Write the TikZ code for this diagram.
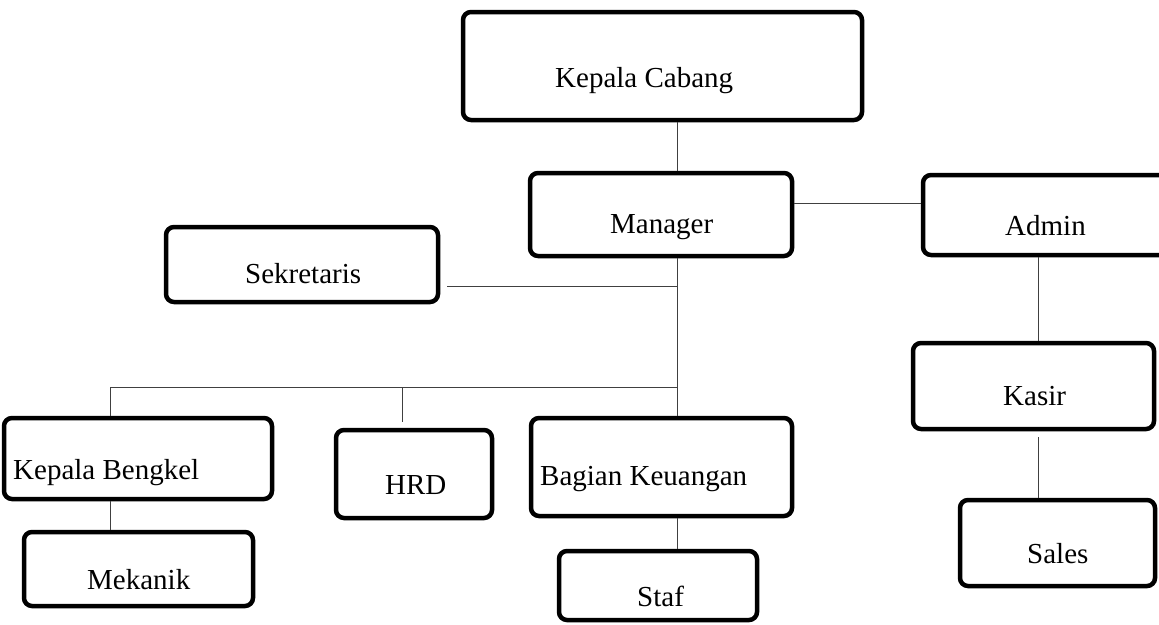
\documentclass[tikz,border=0pt]{standalone}
\usepackage{fontspec}
\setmainfont{Liberation Serif}
\begin{document}
\begin{tikzpicture}[x=1pt, y=-1pt,
    box/.style={draw, line width=4.5pt, rounded corners=8pt, inner sep=0pt},
    lbl/.style={anchor=base west, inner sep=0pt, font=\fontsize{29}{34}\selectfont},
    link/.style={draw=black!75, line width=1pt}]
    \useasboundingbox (0,0) rectangle (1159,624);
    % boxes
    \node (kc) at (662.5,66) [box, minimum width=399pt, minimum height=108pt] {};
    \node (mgr) at (661,214.5) [box, minimum width=262pt, minimum height=83pt] {};
    \node (adm) at (1049,215) [box, minimum width=252pt, minimum height=80pt] {};
    \node (sek) at (302,264.5) [box, minimum width=272pt, minimum height=75pt] {};
    \node (kas) at (1033.5,386) [box, minimum width=241pt, minimum height=86pt] {};
    \node (kb) at (138,458.5) [box, minimum width=268pt, minimum height=81pt] {};
    \node (hrd) at (414,474) [box, minimum width=156pt, minimum height=88pt] {};
    \node (bk) at (661.5,467) [box, minimum width=261pt, minimum height=98pt] {};
    \node (mek) at (138.5,569) [box, minimum width=229pt, minimum height=74pt] {};
    \node (staf) at (658,585.5) [box, minimum width=198pt, minimum height=69pt] {};
    \node (sales) at (1057.5,543) [box, minimum width=195pt, minimum height=86pt] {};
    % texts
    \node (kc-t) at (555,87) [lbl] {Kepala Cabang};
    \node (mgr-t) at (610,233) [lbl] {Manager};
    \node (adm-t) at (1005,235) [lbl] {Admin};
    \node (sek-t) at (245,283) [lbl] {Sekretaris};
    \node (kas-t) at (1003,405) [lbl] {Kasir};
    \node (kb-t) at (13,479) [lbl] {Kepala Bengkel};
    \node (hrd-t) at (385,494) [lbl] {HRD};
    \node (bk-t) at (540,485) [lbl] {Bagian Keuangan};
    \node (mek-t) at (87,589) [lbl] {Mekanik};
    \node (staf-t) at (637,606) [lbl] {Staf};
    \node (sales-t) at (1027,563) [lbl] {Sales};
    % lines
    \coordinate (trunk) at (677,0);
    \coordinate (side) at (1038,0);
    \coordinate (ma) at (0,203);
    \coordinate (sekend) at (447,286);
    \coordinate (branch) at (110,387);
    \coordinate (hrdtop) at (402,422);
    \draw[link] (kc.south -| trunk) -- (mgr.north -| trunk);
    \draw[link] (mgr.east |- ma) -- (adm.west |- ma);
    \draw[link] (mgr.south -| trunk) -- (bk.north -| trunk);
    \draw[link] (sekend) -- (sekend -| trunk);
    \draw[link] (branch) -- (branch -| trunk);
    \draw[link] (branch) -- (kb.north -| branch);
    \draw[link] (hrdtop |- branch) -- (hrdtop);
    \draw[link] (kb.south -| branch) -- (mek.north -| branch);
    \draw[link] (bk.south -| trunk) -- (staf.north -| trunk);
    \draw[link] (adm.south -| side) -- (kas.north -| side);
    \draw[link] ([yshift=-6pt]kas.south -| side) -- (sales.north -| side);
\end{tikzpicture}
\end{document}
